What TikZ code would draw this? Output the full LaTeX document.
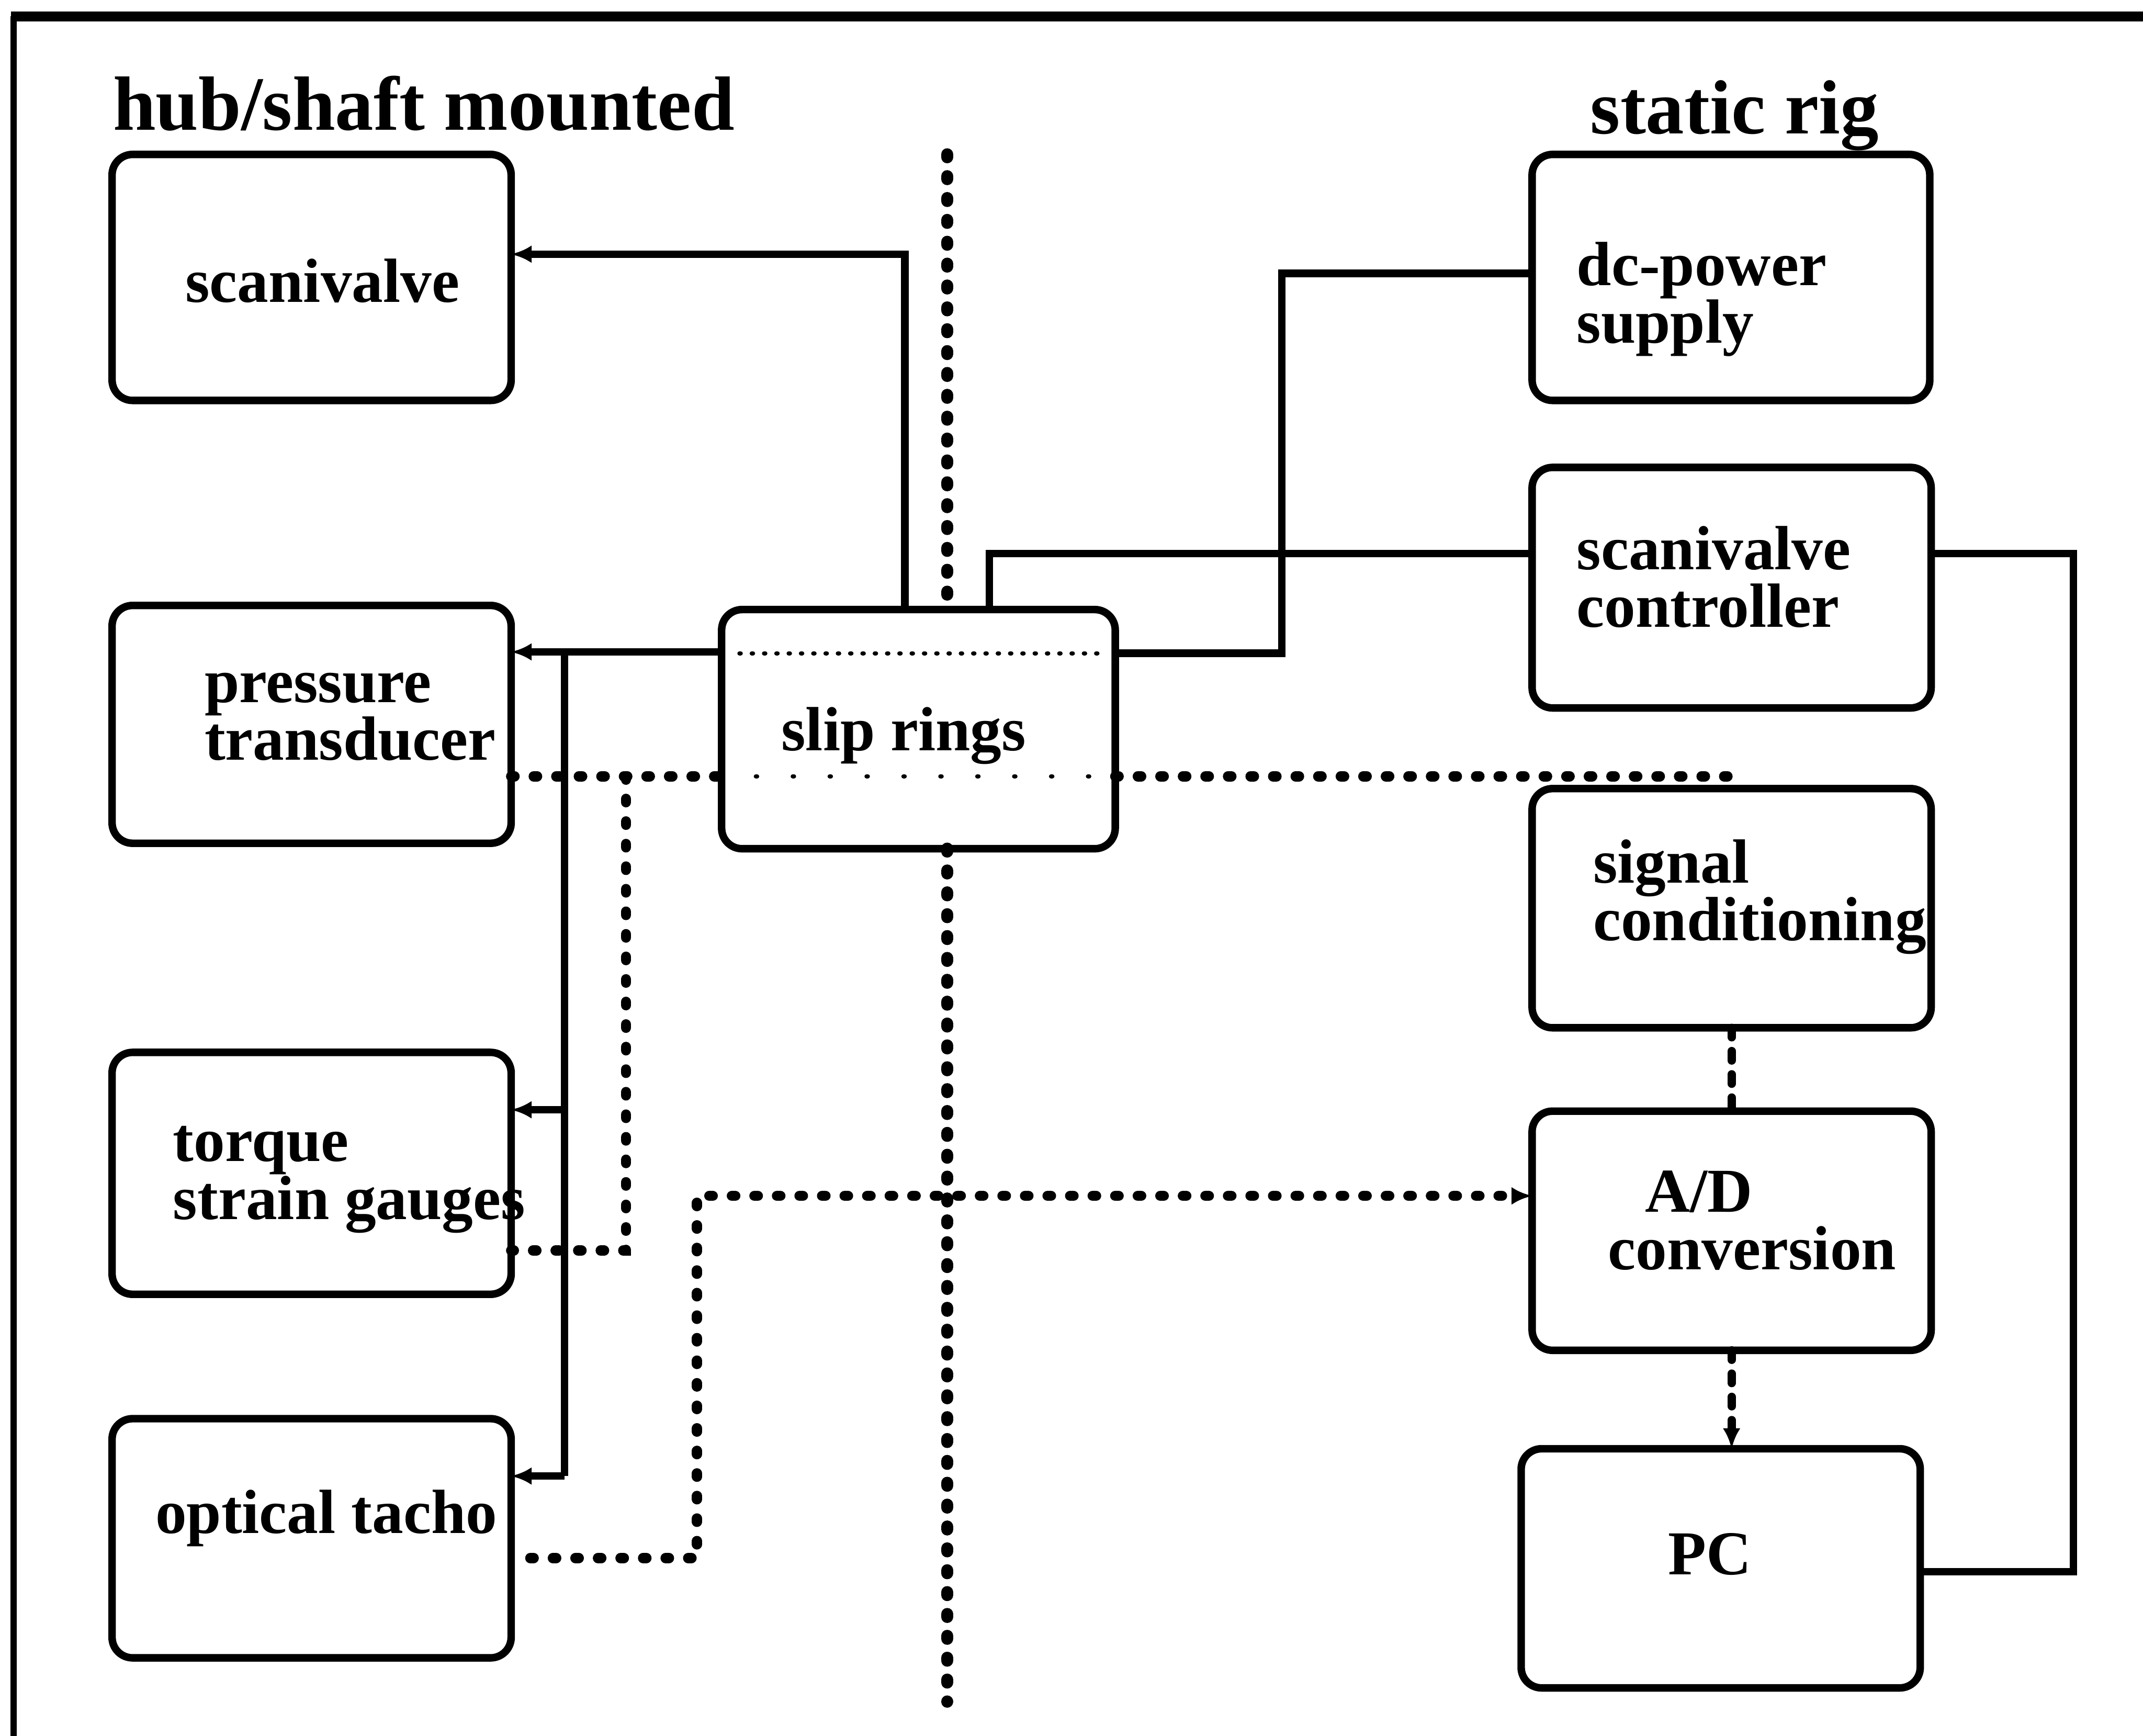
\documentclass[tikz,border=0pt]{standalone}
\usepackage{fontspec}
\setmainfont{Liberation Serif}
\usetikzlibrary{arrows.meta}
\newcommand{\lblfont}[1]{\bfseries\fontsize{13}{#1}\selectfont\lineskiplimit=-50pt\lineskip=0pt}
\begin{document}
\begin{tikzpicture}[x=0.1mm,y=-0.1mm,
  box/.style={draw, line width=0.55mm, rounded corners=1.5mm, inner sep=0pt, outer sep=0pt, minimum width=29.2mm},
  lbl/.style={anchor=base west, inner sep=0pt, align=left, font=\lblfont{12}},
  hdr/.style={anchor=base west, inner sep=0pt, font=\bfseries\fontsize{16}{16}\selectfont},
  conn/.style={line width=0.55mm},
  tip/.style={-{Latex[length=1.5mm,width=1.3mm]}},
  dots/.style={line width=0.75mm, line cap=round, dash pattern=on 0.25mm off 1.4mm},
  bigdots/.style={line width=0.9mm, line cap=round, dash pattern=on 0.2mm off 1.4mm},
  dashdots/.style={line width=0.6mm, line cap=round, dash pattern=on 0.7mm off 1.0mm},
  faint/.style={line width=0.3mm, line cap=round, dash pattern=on 0.1mm off 0.8mm},
  sparse/.style={line width=0.3mm, line cap=round, dash pattern=on 0.1mm off 2.6mm}
]
\useasboundingbox (0,0) rectangle (1568,1270);
% frame
\draw[line width=0.45mm] (10,1270) -- (10,12);
\draw[line width=0.75mm] (8,12) -- (1568,12);

% headers
\node[hdr] (h1) at (82,95) {hub/shaft mounted};
\node[hdr] (h2) at (1163,98) {static rig};

% boxes
\node[box, minimum height=18mm]   (scv) at (228,203) {};
\node[box, minimum height=17.4mm] (pt)  at (228,530) {};
\node[box, minimum height=17.7mm] (tsg) at (228,858.5) {};
\node[box, minimum height=17.5mm] (ot)  at (228,1125.5) {};
\node[box, minimum height=17.5mm, minimum width=28.8mm] (sr) at (672,533.5) {};
\node[box, minimum height=18mm, minimum width=29.1mm] (dc) at (1266.5,203) {};
\node[box, minimum height=17.6mm] (svc) at (1267,430) {};
\node[box, minimum height=17.5mm] (sc)  at (1267,664.5) {};
\node[box, minimum height=17.5mm] (ad)  at (1267,900.5) {};
\node[box, minimum height=17.5mm] (pc)  at (1259,1147.5) {};

% labels (anchor = baseline of last line)
\node[lbl] (scvt) at (135,221) {scanivalve};
\node[lbl] (ptt)  at (149,556) {pressure\\transducer};
\node[lbl] (tsgt) at (126,892) {torque\\strain gauges};
\node[lbl] (ott)  at (113,1122) {optical tacho};
\node[lbl] (srt)  at (571,549) {slip rings};
\node[lbl] (dct)  at (1153,251) {dc-power\\supply};
\node[lbl] (svct) at (1153,459) {scanivalve\\controller};
\node[lbl] (sct)  at (1165,688) {signal\\conditioning};
\node[lbl] (adt)  at (1176,929) {\hspace*{2.7mm}A/D\\conversion};
\node[lbl] (pct)  at (1220,1152) {PC};

% central dotted divider
\coordinate (v1) at (693,113);
\coordinate (v2) at (693,1245);
\draw[bigdots] (v1) -- (v1 |- sr.north);
\draw[bigdots] (v1 |- sr.south) -- (v2);

% slip rings -> scanivalve
\coordinate (a1) at (662,186);
\draw[conn,tip] (sr.north -| a1) -- (a1) -- (scv.east |- a1);
% slip rings -> scanivalve controller -> PC
\coordinate (a2) at (724,405);
\draw[conn] (sr.north -| a2) -- (a2) -- (svc.west |- a2);
\coordinate (a3) at (1517,405);
\coordinate (a6) at (1517,1150);
\draw[conn] (svc.east |- a3) -- (a3) -- (a6) -- (pc.east |- a6);
% slip rings -> dc power supply
\coordinate (a4) at (938,478);
\coordinate (a5) at (938,200);
\draw[conn] (sr.east |- a4) -- (a4) -- (a5) -- (dc.west |- a5);

% bus to hub sensors
\coordinate (b1) at (413,477);
\coordinate (b2) at (413,1080);
\coordinate (b3) at (413,812);
\draw[conn,tip] (sr.west |- b1) -- (pt.east |- b1);
\draw[conn] (b1) -- (b2);
\draw[conn,tip] (b2) -- (ot.east |- b2);
\draw[conn,tip] (b3) -- (tsg.east |- b3);

% signal dotted lines
\coordinate (d1) at (458,568);
\coordinate (d2) at (458,915);
\coordinate (d3) at (1270,568);
\draw[dots] (pt.east |- d1) -- (sr.west |- d1);
\draw[dots] (d1) -- (d2) -- (tsg.east |- d2);
\draw[dots] (sr.east |- d3) -- (d3);
\draw[sparse] ([xshift=2.5mm]sr.west |- d1) -- ([xshift=-1mm]sr.east |- d1);
\draw[faint] ([xshift=1.3mm]sr.west |- a4) -- ([xshift=-0.6mm]sr.east |- a4);

% optical tacho -> A/D
\coordinate (e0) at (388,1140);
\coordinate (e1) at (510,1140);
\coordinate (e2) at (510,875);
\draw[dots,tip] (e0) -- (e1) -- (e2) -- (ad.west |- e2);

% signal conditioning -> A/D -> PC
\draw[dashdots] (sc.south) -- (ad.north);
\draw[dashdots,tip] (ad.south) -- (ad.south |- pc.north);
\end{tikzpicture}
\end{document}
